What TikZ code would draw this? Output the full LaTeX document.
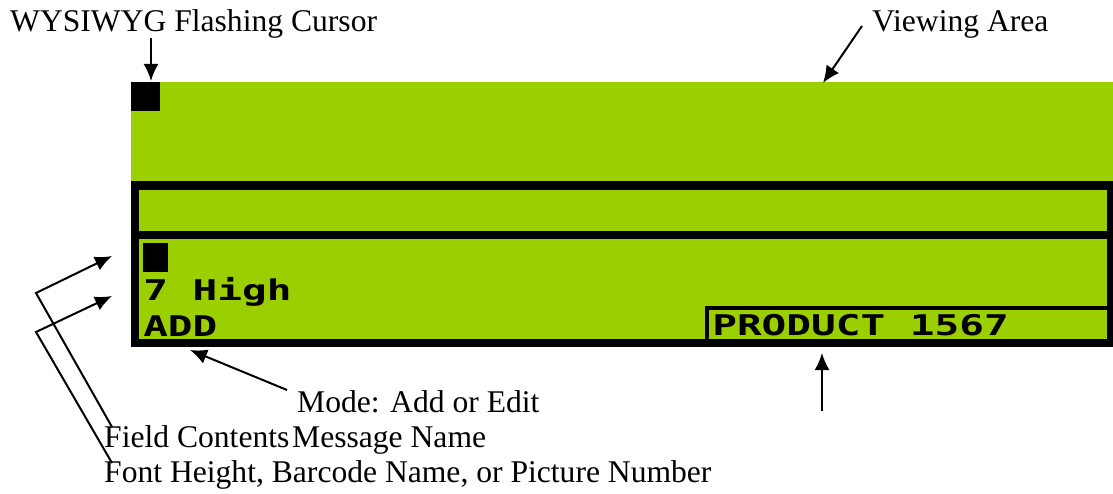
\documentclass[tikz,border=0pt]{standalone}
\usepackage{fontspec}
\setmainfont{Liberation Serif}
\newfontfamily\lcdfont{DejaVu Sans Mono Bold}
\usetikzlibrary{arrows.meta}
\definecolor{lcdgreen}{RGB}{156,207,0}
\tikzset{
  lbl/.style={anchor=base west,inner sep=0pt,font=\fontsize{31.6}{36}\selectfont},
  lcd/.style={anchor=base west,inner sep=0pt,font=\fontsize{28.5}{30}\lcdfont,xscale=1.44,transform shape},
  arr/.style={line width=2pt,-{Latex[length=17pt,width=15pt]}},
  ln/.style={line width=2pt}
}
\begin{document}
\begin{tikzpicture}[x=1pt,y=-1pt]
\useasboundingbox (0,0) rectangle (1113,494);
% display
\fill[lcdgreen] (131,82) rectangle (1113,181);
\fill[black] (131,181) rectangle (1113,347);
\fill[lcdgreen] (139,190) rectangle (1107,231);
\fill[lcdgreen] (139,239) rectangle (1107,339);
\fill[black] (705,306) rectangle (1107,339);
\fill[lcdgreen] (709,310) rectangle (1107,339);
\fill[black] (131,82) rectangle (160,111);
\fill[black] (143,243) rectangle (168,272);
% LCD texts
\node[lcd] (high) at (143,300) {7 High};
\node[lcd] (add) at (143,336) {ADD};
\node[lcd] (prod) at (712,335) {PRODUCT 1567};
% labels
\node[lbl] (cur) at (10,32) {WYSIWYG Flashing Cursor};
\node[lbl] (view) at (872,32) {Viewing Area};
\node[lbl] (mode) at (297,412) {Mode: Add or Edit};
\node[lbl] (field) at (104,447) {Field Contents};
\node[lbl] (msg) at (292,447) {Message Name};
\node[lbl] (font) at (104,482) {Font Height, Barcode Name, or Picture Number};
% arrow coordinates
\coordinate (c1a) at (151,38);
\coordinate (c1b) at (151,81);
\coordinate (v1a) at (862,26);
\coordinate (v1b) at (823,83);
\coordinate (f1a) at (112,427);
\coordinate (f1m) at (36,293);
\coordinate (f1b) at (112,256);
\coordinate (h1a) at (112,463);
\coordinate (h1m) at (36,332);
\coordinate (h1b) at (112,296);
\coordinate (m1a) at (287,390);
\coordinate (m1b) at (190,350);
\coordinate (n1a) at (822,411);
\coordinate (n1b) at (822,353);
\draw[arr] (c1a) -- (c1b);
\draw[arr] (v1a) -- (v1b);
\draw[arr] (f1a) -- (f1m) -- (f1b);
\draw[arr] (h1a) -- (h1m) -- (h1b);
\draw[arr] (m1a) -- (m1b);
\draw[arr] (n1a) -- (n1b);
\end{tikzpicture}
\end{document}
